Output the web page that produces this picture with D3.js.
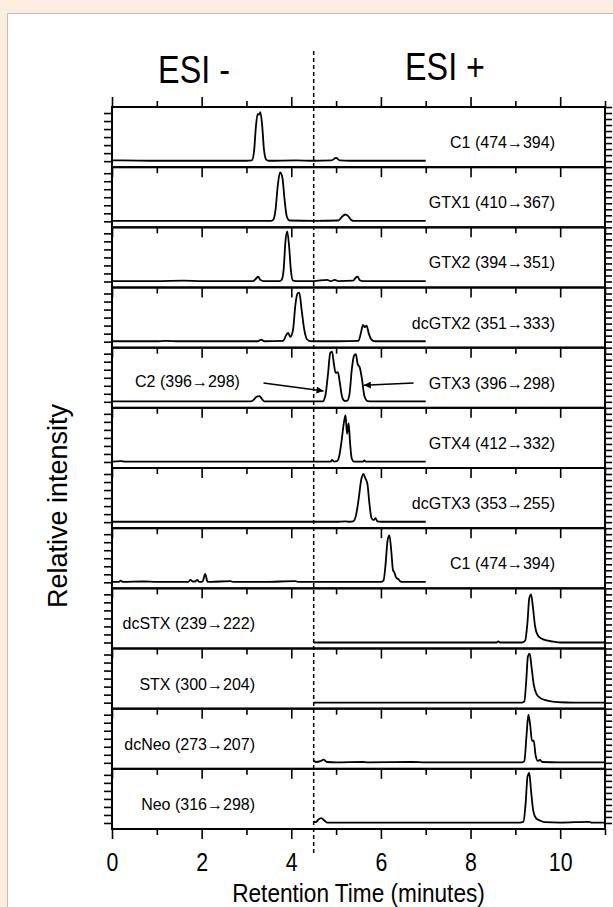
<!DOCTYPE html>
<html>
<head>
<meta charset="utf-8">
<script src="https://cdn.jsdelivr.net/npm/d3@7"></script>
<style>
  body { margin: 0; background: #fcede1; }
  svg { display: block; }
</style>
</head>
<body>
<div id="chart"></div>
<script>
// panel labels, top to bottom
var panelLabels = [
  "C1 (474\u2192394)", "GTX1 (410\u2192367)", "GTX2 (394\u2192351)", "dcGTX2 (351\u2192333)",
  "GTX3 (396\u2192298)", "GTX4 (412\u2192332)", "dcGTX3 (353\u2192255)", "C1 (474\u2192394)",
  "dcSTX (239\u2192222)", "STX (300\u2192204)", "dcNeo (273\u2192207)", "Neo (316\u2192298)"
];
var c2Label = "C2 (396\u2192298)";

// ionisation mode of each trace ("-" runs 0-7 min, "+" runs 4.5-11 min)
var panelMode = ["-", "-", "-", "-", "-", "-", "-", "-", "+", "+", "+", "+"];

// tick values
var xMajor = [0, 2, 4, 6, 8, 10];
var xMinor = [1, 3, 5, 7, 9, 11];
var leftTicks = [0, 0.2, 0.4, 0.6, 0.8, 1.0, 1.2];
var rightTicks = [0, 0.15, 0.3, 0.45, 0.6, 0.75, 0.9, 1.05, 1.2, 1.35];
var esiSwitch = 4.5;

// traces: [retention time (min), relative intensity]
var c1a = [[0,0.02],[0.2,0.02],[1,0.01],[2,0.01],[3,0.01],[3.12,0.02],[3.17,0.25],[3.21,0.85],[3.25,1.18],[3.28,1.16],[3.31,1.22],[3.35,0.9],[3.39,0.3],[3.44,0.04],[3.5,0.01],[4.1,0.02],[4.5,0.01],[4.9,0.02],[5.0,0.08],[5.08,0.02],[5.3,0.01],[7,0.01]];
var gtx1 = [[0,0.01],[1,0.01],[2,0.01],[3,0.01],[3.55,0.01],[3.6,0.04],[3.65,0.3],[3.7,0.9],[3.75,1.22],[3.8,1.1],[3.85,0.55],[3.9,0.12],[3.96,0.02],[4.5,0.01],[5.05,0.02],[5.12,0.1],[5.2,0.17],[5.27,0.13],[5.34,0.03],[5.4,0.01],[7,0.01]];
var gtx2 = [[0,0.01],[1,0.01],[1.6,0.02],[2,0.01],[3.15,0.01],[3.22,0.08],[3.26,0.12],[3.31,0.04],[3.38,0.01],[3.74,0.01],[3.79,0.05],[3.83,0.3],[3.87,1.0],[3.91,1.25],[3.95,0.9],[3.99,0.3],[4.03,0.03],[4.1,0.01],[4.5,0.01],[4.8,0.04],[4.88,0.01],[4.97,0.04],[5.05,0.01],[5.38,0.02],[5.44,0.1],[5.48,0.12],[5.53,0.03],[5.6,0.01],[7,0.01]];
var dcgtx2 = [[0,0.01],[1,0.01],[1.2,0.02],[1.5,0.01],[2,0.01],[2.6,0.01],[3.25,0.01],[3.33,0.05],[3.4,0.01],[3.82,0.02],[3.88,0.15],[3.93,0.22],[3.98,0.12],[4.04,0.3],[4.09,0.9],[4.14,1.2],[4.18,1.22],[4.23,0.8],[4.29,0.3],[4.35,0.06],[4.43,0.01],[5.0,0.01],[5.5,0.02],[5.56,0.25],[5.6,0.42],[5.64,0.36],[5.68,0.4],[5.73,0.2],[5.79,0.05],[5.86,0.01],[7,0.01]];
var c2gtx3 = [[0,0.01],[1,0.01],[2,0.01],[3.1,0.01],[3.17,0.06],[3.23,0.13],[3.29,0.14],[3.34,0.08],[3.4,0.01],[4.0,0.01],[4.7,0.01],[4.76,0.15],[4.82,0.7],[4.87,1.22],[4.91,1.25],[4.95,0.95],[4.99,0.72],[5.04,0.74],[5.08,0.5],[5.14,0.1],[5.2,0.02],[5.25,0.03],[5.3,0.2],[5.35,0.8],[5.4,1.15],[5.44,1.19],[5.48,0.95],[5.53,0.85],[5.58,0.55],[5.63,0.15],[5.7,0.02],[5.8,0.01],[7,0.01]];
var gtx4 = [[0,0.01],[0.2,0.02],[0.3,0.01],[2,0.01],[4.5,0.01],[4.88,0.01],[4.91,0.05],[4.95,0.01],[5.02,0.02],[5.07,0.15],[5.12,0.5],[5.17,0.95],[5.21,1.17],[5.245,0.7],[5.28,0.97],[5.31,0.5],[5.35,0.08],[5.4,0.01],[5.6,0.01],[5.63,0.04],[5.66,0.01],[7,0.01]];
var dcgtx3 = [[0,0.01],[2,0.01],[4,0.01],[5.0,0.01],[5.21,0.02],[5.3,0.01],[5.38,0.02],[5.44,0.15],[5.5,0.55],[5.56,1.05],[5.61,1.2],[5.65,1.1],[5.7,0.95],[5.74,0.5],[5.79,0.1],[5.84,0.05],[5.88,0.1],[5.92,0.02],[6.0,0.01],[7,0.01]];
var c1b = [[0,0.01],[0.15,0.01],[0.19,0.04],[0.24,0.01],[0.7,0.02],[1,0.01],[1.7,0.01],[1.75,0.06],[1.8,0.02],[1.86,0.02],[1.9,0.06],[1.95,0.01],[2.02,0.02],[2.08,0.21],[2.13,0.02],[2.2,0.01],[2.64,0.03],[2.7,0.01],[3.4,0.01],[4.09,0.03],[4.15,0.01],[6.0,0.01],[6.06,0.05],[6.1,0.4],[6.15,1.05],[6.19,1.17],[6.23,0.8],[6.27,0.3],[6.3,0.25],[6.34,0.12],[6.39,0.08],[6.44,0.02],[6.5,0.01],[7,0.01]];
var dcstx = [[4.5,0],[6,0],[8,0],[8.58,0],[8.62,0.03],[8.66,0],[9.15,0],[9.22,0.05],[9.27,0.5],[9.31,1.1],[9.35,1.2],[9.39,0.9],[9.44,0.4],[9.5,0.18],[9.58,0.1],[9.7,0.05],[9.85,0.02],[10,0],[11,0]];
var stx = [[4.5,0],[7,0],[9.15,0],[9.2,0.03],[9.24,0.5],[9.28,1.15],[9.32,1.22],[9.36,0.9],[9.41,0.45],[9.47,0.22],[9.55,0.12],[9.65,0.07],[9.8,0.03],[10.0,0.01],[10.3,0],[11,0]];
var dcneo = [[4.5,0.06],[4.55,0.02],[4.65,0.04],[4.72,0.08],[4.8,0.02],[5,0.01],[5.6,0.02],[5.7,0.01],[6.7,0.02],[7.0,0.01],[8,0.01],[9.15,0.01],[9.2,0.04],[9.25,0.7],[9.29,1.2],[9.33,0.95],[9.37,0.55],[9.41,0.55],[9.45,0.2],[9.5,0.05],[9.55,0.07],[9.6,0.02],[10,0.01],[11,0.01]];
var neo = [[4.5,0.04],[4.55,0.02],[4.6,0.08],[4.67,0.12],[4.74,0.06],[4.8,0.01],[5.5,0.01],[7,0.01],[9.1,0.01],[9.18,0.03],[9.23,0.5],[9.27,1.15],[9.31,1.25],[9.35,0.8],[9.4,0.3],[9.46,0.12],[9.55,0.06],[9.65,0.02],[10,0.01],[10.65,0.03],[10.7,0.01],[11,0.01]];

var traces = [c1a, gtx1, gtx2, dcgtx2, c2gtx3, gtx4, dcgtx3, c1b, dcstx, stx, dcneo, neo];

// arrows in the C2 / GTX3 panel: [[t0, i0], [t1, i1]]
var c2Arrow = [[3.38, 0.47], [4.72, 0.27]];
var gtx3Arrow = [[6.73, 0.47], [5.62, 0.41]];

//SVG size and plot area
var svgWidth = 613;
var svgHeight = 907;
var plotLeft = 112, plotRight = 605, plotTop = 107, plotBottom = 829;
var font = "'Liberation Sans', Arial, sans-serif";

var svg = d3.select("#chart")
  .append("svg")
  .attr("width", svgWidth)
  .attr("height", svgHeight);

// white card on peach page
svg.append("rect")
  .attr("x", 7.5).attr("y", 13.5)
  .attr("width", 640).attr("height", 920)
  .attr("fill", "#fff")
  .attr("stroke", "#c9bcb3")
  .attr("stroke-width", 1);

var x = d3.scaleLinear().domain([0, 11]).range([plotLeft, plotRight]);

var band = d3.scaleBand()
  .domain(d3.range(panelLabels.length))
  .range([plotTop, plotBottom]);
var ph = band.bandwidth();

var y = d3.scaleLinear().domain([-0.15, 1.35]).range([ph, 0]);

var line = d3.line()
  .x(d => x(d[0]))
  .y(d => y(d[1]))
  .curve(d3.curveMonotoneX);

svg.append("defs").append("marker")
  .attr("id", "head")
  .attr("viewBox", "0 0 10 10")
  .attr("refX", 10).attr("refY", 5)
  .attr("markerWidth", 9).attr("markerHeight", 7)
  .attr("markerUnits", "userSpaceOnUse")
  .attr("orient", "auto")
  .append("path")
  .attr("d", "M0,0L10,5L0,10Z")
  .attr("fill", "#000");

function styleAxis(g) {
  g.select(".domain").remove();
  g.selectAll(".tick line").attr("stroke", "#000").attr("stroke-width", 1.6);
}

panelLabels.forEach(function(label, i) {
  var g = svg.append("g")
    .attr("transform", `translate(0, ${band(i)})`);

  // y ticks both sides
  g.append("g")
    .attr("transform", `translate(${plotLeft}, 0)`)
    .call(d3.axisLeft(y).tickValues(leftTicks).tickSize(8).tickFormat(""))
    .call(styleAxis);
  g.append("g")
    .attr("transform", `translate(${plotRight}, 0)`)
    .call(d3.axisRight(y).tickValues(rightTicks).tickSize(7).tickFormat(""))
    .call(styleAxis);

  // x ticks at the bottom of each panel, pointing down
  g.append("g")
    .attr("transform", `translate(0, ${ph})`)
    .call(d3.axisBottom(x).tickValues(xMajor).tickSize(10).tickFormat(""))
    .call(styleAxis);
  g.append("g")
    .attr("transform", `translate(0, ${ph})`)
    .call(d3.axisBottom(x).tickValues(xMinor).tickSize(6).tickFormat(""))
    .call(styleAxis);

  if (i === 0) {
    g.append("g")
      .call(d3.axisTop(x).tickValues(xMajor).tickSize(10).tickFormat(""))
      .call(styleAxis);
    g.append("g")
      .call(d3.axisTop(x).tickValues(xMinor).tickSize(6).tickFormat(""))
      .call(styleAxis);
  }

  g.append("rect")
    .attr("x", plotLeft).attr("y", 0)
    .attr("width", plotRight - plotLeft).attr("height", ph)
    .attr("fill", "none")
    .attr("stroke", "#000")
    .attr("stroke-width", 2);

  g.append("path")
    .datum(traces[i])
    .attr("d", line)
    .attr("fill", "none")
    .attr("stroke", "#000")
    .attr("stroke-width", 1.8)
    .attr("stroke-linejoin", "round");

  var right = panelMode[i] === "-";
  g.append("text")
    .attr("x", right ? 555 : 255)
    .attr("y", 41)
    .attr("text-anchor", "end")
    .style("font-family", font)
    .style("font-size", "16px")
    .text(label);

  if (i === 4) {
    g.append("text")
      .attr("x", 135)
      .attr("y", 39)
      .style("font-family", font)
      .style("font-size", "16px")
      .text(c2Label);
    [c2Arrow, gtx3Arrow].forEach(function(a) {
      g.append("line")
        .attr("x1", x(a[0][0])).attr("y1", y(a[0][1]))
        .attr("x2", x(a[1][0])).attr("y2", y(a[1][1]))
        .attr("stroke", "#000")
        .attr("stroke-width", 1.5)
        .attr("marker-end", "url(#head)");
    });
  }
});

// bottom tick labels (condensed look of the original)
var bottomAxis = svg.append("g")
  .attr("transform", `translate(0, ${plotBottom})`)
  .call(d3.axisBottom(x).tickValues(xMajor).tickSize(10).tickPadding(14).tickFormat(d3.format("d")));
bottomAxis.select(".domain").remove();
bottomAxis.selectAll(".tick line").remove();
bottomAxis.selectAll("text")
  .attr("fill", "#000")
  .attr("transform", "scale(0.82,1)")
  .style("font-family", font)
  .style("font-size", "26px");

// ESI switch line
svg.append("line")
  .attr("x1", x(esiSwitch)).attr("x2", x(esiSwitch))
  .attr("y1", 51).attr("y2", 856)
  .attr("stroke", "#000")
  .attr("stroke-width", 1.5)
  .attr("stroke-dasharray", "4,3");

svg.append("text")
  .attr("transform", "translate(194, 83) scale(0.85,1)")
  .attr("text-anchor", "middle")
  .style("font-family", font)
  .style("font-size", "38px")
  .text("ESI -");
svg.append("text")
  .attr("transform", "translate(445, 80) scale(0.85,1)")
  .attr("text-anchor", "middle")
  .style("font-family", font)
  .style("font-size", "38px")
  .text("ESI +");

svg.append("text")
  .attr("transform", `translate(${(plotLeft + plotRight) / 2}, 902) scale(0.87,1)`)
  .attr("text-anchor", "middle")
  .style("font-family", font)
  .style("font-size", "26px")
  .text("Retention Time (minutes)");

svg.append("text")
  .attr("transform", "translate(67, 506) rotate(-90)")
  .attr("text-anchor", "middle")
  .style("font-family", font)
  .style("font-size", "27px")
  .text("Relative intensity");
</script>
</body>
</html>
